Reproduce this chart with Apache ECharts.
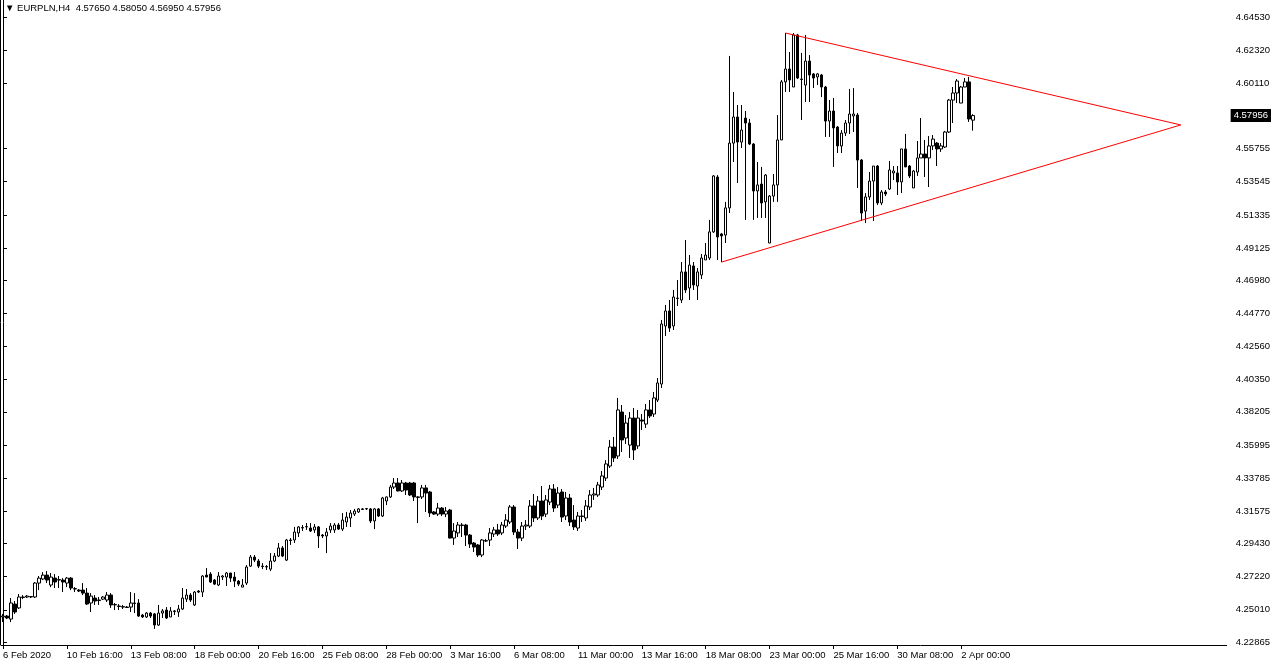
<!DOCTYPE html>
<html><head><meta charset="utf-8">
<script src="https://cdn.jsdelivr.net/npm/echarts@6/dist/echarts.min.js"></script>
<style>html,body{margin:0;padding:0;background:#fff}#c{width:1273px;height:665px}</style>
</head><body><div id="c"></div><script>
const symbolName = 'EURPLN,H4';
const tickLabels = ['6 Feb 2020','10 Feb 16:00','13 Feb 08:00','18 Feb 00:00','20 Feb 16:00','25 Feb 08:00','28 Feb 00:00','3 Mar 16:00','6 Mar 08:00','11 Mar 00:00','13 Mar 16:00','18 Mar 08:00','23 Mar 00:00','25 Mar 16:00','30 Mar 08:00','2 Apr 00:00'];
const yTickValues = [4.64530,4.62320,4.60110,4.55755,4.53545,4.51335,4.49125,4.46980,4.44770,4.42560,4.40350,4.38205,4.35995,4.33785,4.31575,4.29430,4.27220,4.25010,4.22865];
const open = [
4.2453,4.2459,4.2439,4.2539,4.2513,4.2586,4.2586,4.2586,4.2586,4.2679,
4.2706,4.2732,4.2666,4.2712,4.2699,4.2699,4.2679,4.2712,4.2639,4.2632,
4.2632,4.2612,4.2546,4.2579,4.2566,4.2572,4.2566,4.2599,4.2533,4.2526,
4.2519,4.2519,4.2519,4.2546,4.2546,4.2466,4.2453,4.2479,4.2473,4.2399,
4.2479,4.2499,4.2453,4.2493,4.2486,4.2506,4.2572,4.2599,4.2533,4.2626,
4.2619,4.2732,4.2739,4.2699,4.2666,4.2719,4.2719,4.2746,4.2719,4.2692,
4.2652,4.2679,4.2792,4.2852,4.2826,4.2792,4.2786,4.2772,4.2826,4.2859,
4.2913,4.2832,4.2966,4.2966,4.3013,4.3046,4.3053,4.3046,4.3033,4.3053,
4.2999,4.2993,4.3033,4.3033,4.3066,4.3039,4.3086,4.3113,4.3139,4.3153,
4.3173,4.3173,4.3173,4.3093,4.3173,4.3126,4.3226,4.3253,4.3319,4.3346,
4.3293,4.3346,4.3346,4.3346,4.3253,4.3253,4.3313,4.3286,4.3153,4.3139,
4.3179,4.3139,4.3166,4.2979,4.3013,4.3066,4.3066,4.2999,4.2946,4.2933,
4.2866,4.2959,4.2966,4.3006,4.3033,4.3013,4.3059,4.3086,4.3186,4.3019,
4.2979,4.3059,4.3059,4.3193,4.3113,4.3226,4.3139,4.3219,4.3306,4.3199,
4.3286,4.3126,4.3246,4.3099,4.3046,4.3126,4.3113,4.3186,4.3266,4.3266,
4.3319,4.3379,4.3459,4.3586,4.3526,4.3819,4.3646,4.3599,4.3779,4.3593,
4.3766,4.3739,4.3833,4.3806,4.3899,4.4006,4.4393,4.4493,4.4393,4.4579,
4.4566,4.4753,4.4646,4.4793,4.4659,4.4733,4.4833,4.4846,4.5020,4.5386,
4.5006,4.4999,4.5180,4.5612,4.5786,4.5619,4.5779,4.5746,4.5606,4.5293,
4.5339,4.5220,4.4946,4.5259,4.5333,4.5633,4.6020,4.6106,4.5986,4.6333,
4.6039,4.5999,4.6159,4.6073,4.6053,4.6066,4.5986,4.5759,4.5826,4.5719,
4.5593,4.5679,4.5746,4.5793,4.5799,4.5499,4.5159,4.5253,4.5359,4.5459,
4.5213,4.5286,4.5306,4.5413,4.5413,4.5353,4.5573,4.5459,4.5313,4.5419,
4.5513,4.5539,4.5513,4.5593,4.5612,4.5573,4.5586,4.5686,4.5899,4.5946,
4.5879,4.5986,4.6020,4.57650];
const close = [
4.2459,4.2446,4.2546,4.2486,4.2586,4.2583,4.2592,4.2589,4.2679,4.2712,
4.2732,4.2699,4.2719,4.2686,4.2702,4.2686,4.2712,4.2646,4.2642,4.2626,
4.2612,4.2539,4.2592,4.2559,4.2563,4.2586,4.2599,4.2533,4.2536,4.2523,
4.2522,4.2516,4.2546,4.2543,4.2459,4.2453,4.2479,4.2459,4.2399,4.2479,
4.2493,4.2446,4.2493,4.2490,4.2506,4.2579,4.2599,4.2566,4.2619,4.2619,
4.2726,4.2719,4.2686,4.2672,4.2726,4.2726,4.2746,4.2712,4.2692,4.2672,
4.2666,4.2786,4.2852,4.2832,4.2792,4.2789,4.2789,4.2826,4.2859,4.2913,
4.2859,4.2966,4.2963,4.3019,4.3053,4.3049,4.3056,4.3026,4.3053,4.2993,
4.2993,4.3019,4.3059,4.3066,4.3039,4.3099,4.3119,4.3146,4.3159,4.3173,
4.3170,4.3176,4.3093,4.3173,4.3126,4.3246,4.3253,4.3319,4.3346,4.3293,
4.3346,4.3299,4.3266,4.3253,4.3250,4.3313,4.3279,4.3146,4.3139,4.3179,
4.3139,4.3159,4.2979,4.3026,4.3066,4.3063,4.2999,4.2939,4.2919,4.2866,
4.2966,4.2962,4.3013,4.3033,4.3006,4.3066,4.3099,4.3186,4.3019,4.2979,
4.3059,4.3066,4.3193,4.3113,4.3226,4.3126,4.3233,4.3306,4.3179,4.3279,
4.3119,4.3246,4.3086,4.3053,4.3126,4.3123,4.3193,4.3266,4.3273,4.3333,
4.3393,4.3473,4.3586,4.3513,4.3833,4.3633,4.3746,4.3779,4.3566,4.3779,
4.3759,4.3833,4.3793,4.3913,4.4013,4.4406,4.4493,4.4379,4.4586,4.4576,
4.4753,4.4633,4.4799,4.4666,4.4753,4.4846,4.4866,4.5020,4.5393,4.4986,
4.4993,4.5180,4.5612,4.5786,4.5619,4.5699,4.5746,4.5606,4.5293,4.5333,
4.5213,4.5399,4.5259,4.5333,4.5633,4.6020,4.6106,4.6033,4.6333,4.6046,
4.6036,4.6159,4.6066,4.6046,4.6073,4.5986,4.5759,4.5826,4.5713,4.5593,
4.5679,4.5746,4.5806,4.5806,4.5499,4.5146,4.5253,4.5359,4.5459,4.5213,
4.5286,4.5273,4.5433,4.5426,4.5353,4.5573,4.5453,4.5393,4.5426,4.5513,
4.5539,4.5513,4.5593,4.5639,4.5573,4.5593,4.5686,4.5899,4.5946,4.6026,
4.5986,4.6020,4.5773,4.57956];
const high = [
4.2473,4.2466,4.2579,4.2559,4.2606,4.2599,4.2599,4.2592,4.2686,4.2726,
4.2752,4.2759,4.2746,4.2739,4.2726,4.2712,4.2719,4.2719,4.2652,4.2639,
4.2679,4.2646,4.2612,4.2599,4.2586,4.2592,4.2619,4.2612,4.2546,4.2539,
4.2533,4.2526,4.2619,4.2612,4.2572,4.2473,4.2486,4.2486,4.2479,4.2533,
4.2506,4.2519,4.2519,4.2499,4.2533,4.2646,4.2639,4.2612,4.2626,4.2632,
4.2732,4.2779,4.2752,4.2706,4.2752,4.2732,4.2752,4.2746,4.2752,4.2699,
4.2706,4.2799,4.2866,4.2866,4.2839,4.2812,4.2799,4.2879,4.2879,4.2946,
4.2926,4.2973,4.2979,4.3053,4.3059,4.3066,4.3079,4.3079,4.3073,4.3059,
4.3006,4.3046,4.3079,4.3079,4.3079,4.3146,4.3153,4.3166,4.3173,4.3179,
4.3179,4.3179,4.3179,4.3179,4.3179,4.3253,4.3256,4.3333,4.3379,4.3379,
4.3366,4.3353,4.3353,4.3353,4.3259,4.3333,4.3333,4.3293,4.3159,4.3213,
4.3186,4.3186,4.3173,4.3079,4.3086,4.3079,4.3073,4.3006,4.2953,4.2939,
4.2973,4.2973,4.3046,4.3053,4.3073,4.3086,4.3139,4.3199,4.3199,4.3039,
4.3086,4.3099,4.3233,4.3273,4.3259,4.3326,4.3266,4.3333,4.3339,4.3319,
4.3306,4.3286,4.3273,4.3199,4.3153,4.3166,4.3233,4.3299,4.3313,4.3353,
4.3426,4.3499,4.3633,4.3653,4.3913,4.3866,4.3799,4.3819,4.3846,4.3833,
4.3806,4.3873,4.3899,4.3953,4.4046,4.4433,4.4533,4.4566,4.4633,4.4699,
4.4819,4.4966,4.4866,4.4819,4.4779,4.4873,4.4946,4.5100,4.5399,4.5399,
4.5013,4.5220,4.6193,4.5953,4.5866,4.5866,4.5826,4.5773,4.5612,4.5486,
4.5453,4.5406,4.5266,4.5406,4.5799,4.6033,4.6346,4.6219,4.6346,4.6340,
4.6213,4.6333,4.6199,4.6079,4.6079,4.6073,4.5993,4.5899,4.5913,4.5726,
4.5699,4.5766,4.5973,4.5979,4.5813,4.5506,4.5279,4.5419,4.5459,4.5466,
4.5299,4.5299,4.5493,4.5459,4.5459,4.5573,4.5673,4.5466,4.5433,4.5626,
4.5779,4.5633,4.5659,4.5666,4.5619,4.5612,4.5693,4.5906,4.5986,4.6039,
4.5993,4.6046,4.6053,4.58050];
const low = [
4.2419,4.2439,4.2419,4.2473,4.2506,4.2572,4.2579,4.2579,4.2579,4.2632,
4.2699,4.2679,4.2652,4.2646,4.2646,4.2619,4.2652,4.2632,4.2619,4.2619,
4.2599,4.2533,4.2486,4.2533,4.2533,4.2566,4.2553,4.2513,4.2499,4.2499,
4.2506,4.2513,4.2486,4.2479,4.2453,4.2446,4.2446,4.2446,4.2373,4.2393,
4.2446,4.2439,4.2453,4.2466,4.2453,4.2499,4.2553,4.2553,4.2526,4.2612,
4.2586,4.2719,4.2679,4.2666,4.2659,4.2699,4.2659,4.2686,4.2652,4.2659,
4.2652,4.2666,4.2786,4.2819,4.2779,4.2772,4.2766,4.2759,4.2819,4.2852,
4.2852,4.2826,4.2933,4.2946,4.2986,4.3026,4.3033,4.3019,4.3013,4.2913,
4.2979,4.2879,4.3013,4.3013,4.3033,4.3026,4.3053,4.3053,4.3126,4.3146,
4.3166,4.3166,4.3079,4.3039,4.3119,4.3119,4.3199,4.3246,4.3306,4.3290,
4.3286,4.3266,4.3259,4.3226,4.3079,4.3239,4.3153,4.3119,4.3133,4.3126,
4.3126,4.3119,4.2976,4.2933,4.2986,4.2986,4.2926,4.2913,4.2886,4.2852,
4.2852,4.2953,4.2926,4.2986,4.2993,4.2999,4.3046,4.3073,4.2999,4.2906,
4.2959,4.3033,4.3046,4.3086,4.3099,4.3099,4.3119,4.3199,4.3153,4.3179,
4.3086,4.3099,4.3059,4.3033,4.3026,4.3086,4.3093,4.3166,4.3233,4.3253,
4.3299,4.3359,4.3446,4.3486,4.3506,4.3553,4.3606,4.3513,4.3499,4.3573,
4.3699,4.3713,4.3779,4.3786,4.3886,4.3979,4.4326,4.4353,4.4366,4.4526,
4.4546,4.4613,4.4566,4.4633,4.4566,4.4706,4.4833,4.4833,4.5013,4.4833,
4.4819,4.4946,4.5146,4.5486,4.5346,4.5579,4.5100,4.5599,4.5100,4.5113,
4.5113,4.5113,4.4946,4.5220,4.5220,4.5633,4.5953,4.5953,4.5986,4.6039,
4.5766,4.5886,4.5886,4.5979,4.5999,4.5919,4.5653,4.5653,4.5453,4.5546,
4.5546,4.5659,4.5673,4.5686,4.5313,4.5093,4.5079,4.5233,4.5093,4.5199,
4.5199,4.5259,4.5299,4.5366,4.5266,4.5279,4.5453,4.5379,4.5313,4.5393,
4.5513,4.5386,4.5319,4.5566,4.5459,4.5553,4.5579,4.5679,4.5746,4.5879,
4.5879,4.5986,4.5753,4.56950];
const emptyBarsRight = 63;
const trendIdx = [180, 295, 196];
const trendVal = [4.4819, 4.5733, 4.6346];

const FONT = 'Tahoma, "Liberation Sans", Arial, sans-serif';
const FS = 9.5;
const nCat = open.length + emptyBarsRight;
const categories = Array.from({length: nCat}, (_, i) => String(i));
const ohlc = open.map((o, i) => [o, close[i], low[i], high[i]]);
const last = open.length - 1;
const titleText = '\u25BC ' + symbolName + '  ' + [open[last], high[last], low[last], close[last]].map(v => v.toFixed(5)).join(' ');
const showTick = (idx) => idx % 16 === 0 && idx / 16 < tickLabels.length;

const chart = echarts.init(document.getElementById('c'), null, {renderer: 'canvas'});
chart.setOption({
  animation: false,
  backgroundColor: '#fff',
  grid: {left: 0, right: 45, top: 0, bottom: 20},
  graphic: [
    {type: 'line', shape: {x1: 0.5, y1: 0, x2: 0.5, y2: 645}, style: {stroke: '#000', lineWidth: 1}},
    {type: 'text', left: 5, top: 3, style: {text: titleText, font: FS + 'px ' + FONT, fill: '#000'}}
  ],
  xAxis: [{
    type: 'category', data: categories, boundaryGap: true,
    axisLine: {lineStyle: {color: '#000', width: 1}},
    axisTick: {show: true, interval: (i) => showTick(i), alignWithLabel: true, length: 4, lineStyle: {color: '#000'}},
    axisLabel: {interval: (i) => showTick(i), formatter: (v, i) => tickLabels[Math.round(i / 16)] || '', align: 'left', margin: 5, color: '#000', fontFamily: FONT, fontSize: FS},
    splitLine: {show: false}
  }, {
    type: 'value', min: -0.5, max: nCat - 0.5, show: false
  }],
  yAxis: {
    type: 'value', position: 'right', min: 4.2266, max: 4.6566, scale: true,
    axisLine: {show: true, lineStyle: {color: '#000', width: 1}},
    axisTick: {show: true, customValues: yTickValues, length: 4, lineStyle: {color: '#000'}},
    axisLabel: {customValues: yTickValues, formatter: (v) => v.toFixed(5), margin: 9, color: '#000', fontFamily: FONT, fontSize: FS, align: 'left'},
    splitLine: {show: false}
  },
  series: [{
    type: 'candlestick', xAxisIndex: 0, data: ohlc, barWidth: 3,
    itemStyle: {color: '#fff', color0: '#000', borderColor: '#000', borderColor0: '#000', borderWidth: 1},
    markLine: {
      silent: true, symbol: ['none', 'none'], precision: 5,
      lineStyle: {color: 'rgba(0,0,0,0)', width: 0, type: 'solid'},
      label: {show: true, position: 'end', distance: 4, formatter: () => close[last].toFixed(5), backgroundColor: '#000', color: '#fff', padding: [2, 3, 1, 3], fontFamily: FONT, fontSize: FS},
      emphasis: {disabled: true},
      data: [{yAxis: close[last]}]
    }
  }, {
    type: 'line', xAxisIndex: 1, symbol: 'none', silent: true,
    data: trendIdx.map((x, i) => [x, trendVal[i]]),
    lineStyle: {color: '#ff0000', width: 1}
  }]
});
</script></body></html>
